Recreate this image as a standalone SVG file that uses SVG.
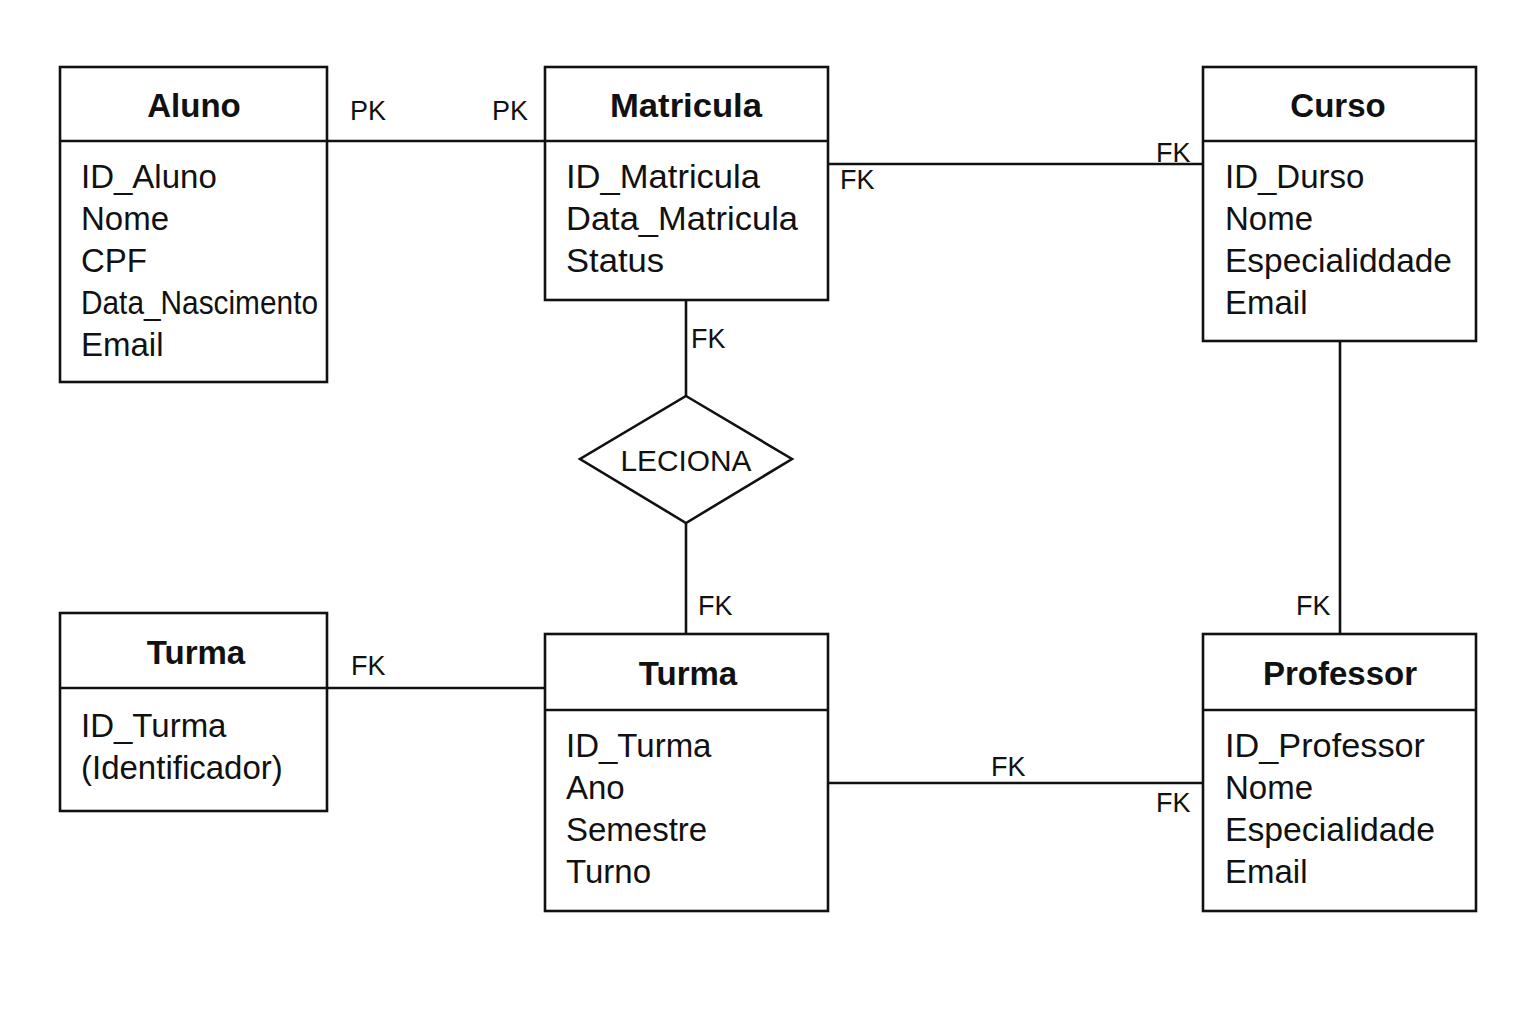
<svg xmlns="http://www.w3.org/2000/svg" width="1536" height="1024" viewBox="0 0 1536 1024">
<style>
.box{fill:#fff;stroke:#111;stroke-width:2.6}
.ln{stroke:#111;stroke-width:2.6;fill:none}
.t{font-family:"Liberation Sans",Arial,Helvetica,sans-serif;font-size:33px;font-weight:bold;fill:#111;text-anchor:middle}
.a{font-family:"Liberation Sans",Arial,Helvetica,sans-serif;font-size:33px;fill:#111}
.l{font-family:"Liberation Sans",Arial,Helvetica,sans-serif;font-size:27px;fill:#111}
</style>
<rect width="1536" height="1024" fill="#fff"/>
<g id="connectors">
<line class="ln" x1="327" y1="141" x2="545" y2="141"/>
<line class="ln" x1="828" y1="164" x2="1203" y2="164"/>
<line class="ln" x1="686" y1="300" x2="686" y2="396"/>
<line class="ln" x1="686" y1="523" x2="686" y2="634"/>
<line class="ln" x1="327" y1="688" x2="545" y2="688"/>
<line class="ln" x1="828" y1="783" x2="1203" y2="783"/>
<line class="ln" x1="1340" y1="341" x2="1340" y2="634"/>
<text class="l" x="350" y="120">PK</text>
<text class="l" x="492" y="120">PK</text>
<text class="l" x="840" y="189">FK</text>
<text class="l" x="1156" y="162">FK</text>
<text class="l" x="691" y="348">FK</text>
<text class="l" x="698" y="615">FK</text>
<text class="l" x="351" y="675">FK</text>
<text class="l" x="991" y="776">FK</text>
<text class="l" x="1156" y="812">FK</text>
<text class="l" x="1296" y="615">FK</text>
</g>
<g id="aluno">
<rect class="box" x="60" y="67" width="267" height="315"/>
<line class="ln" x1="60" y1="141" x2="327" y2="141"/>
<text class="t" x="194" y="117">Aluno</text>
<text class="a" x="81" y="188">ID_Aluno</text>
<text class="a" x="81" y="230">Nome</text>
<text class="a" x="81" y="272">CPF</text>
<text class="a" x="81" y="314" textLength="237" lengthAdjust="spacingAndGlyphs">Data_Nascimento</text>
<text class="a" x="81" y="356">Email</text>
</g>
<g id="matricula">
<rect class="box" x="545" y="67" width="283" height="233"/>
<line class="ln" x1="545" y1="141" x2="828" y2="141"/>
<text class="t" x="686" y="117" textLength="152" lengthAdjust="spacingAndGlyphs">Matricula</text>
<text class="a" x="566" y="188" textLength="194" lengthAdjust="spacingAndGlyphs">ID_Matricula</text>
<text class="a" x="566" y="230" textLength="232" lengthAdjust="spacingAndGlyphs">Data_Matricula</text>
<text class="a" x="566" y="272" textLength="98" lengthAdjust="spacingAndGlyphs">Status</text>
</g>
<g id="curso">
<rect class="box" x="1203" y="67" width="273" height="274"/>
<line class="ln" x1="1203" y1="141" x2="1476" y2="141"/>
<text class="t" x="1338" y="117">Curso</text>
<text class="a" x="1225" y="188">ID_Durso</text>
<text class="a" x="1225" y="230">Nome</text>
<text class="a" x="1225" y="272" textLength="227" lengthAdjust="spacingAndGlyphs">Especialiddade</text>
<text class="a" x="1225" y="314">Email</text>
</g>
<g id="leciona">
<polygon class="box" points="686,396 792,459 686,523 580,459"/>
<text class="a" x="686" y="471" text-anchor="middle" style="font-size:29px" textLength="131" lengthAdjust="spacingAndGlyphs">LECIONA</text>
</g>
<g id="turma-left">
<rect class="box" x="60" y="613" width="267" height="198"/>
<line class="ln" x1="60" y1="688" x2="327" y2="688"/>
<text class="t" x="196" y="664">Turma</text>
<text class="a" x="81" y="737">ID_Turma</text>
<text class="a" x="81" y="779">(Identificador)</text>
</g>
<g id="turma">
<rect class="box" x="545" y="634" width="283" height="277"/>
<line class="ln" x1="545" y1="710" x2="828" y2="710"/>
<text class="t" x="688" y="685">Turma</text>
<text class="a" x="566" y="757">ID_Turma</text>
<text class="a" x="566" y="799">Ano</text>
<text class="a" x="566" y="841">Semestre</text>
<text class="a" x="566" y="883">Turno</text>
</g>
<g id="professor">
<rect class="box" x="1203" y="634" width="273" height="277"/>
<line class="ln" x1="1203" y1="710" x2="1476" y2="710"/>
<text class="t" x="1340" y="685">Professor</text>
<text class="a" x="1225" y="757" textLength="200" lengthAdjust="spacingAndGlyphs">ID_Professor</text>
<text class="a" x="1225" y="799">Nome</text>
<text class="a" x="1225" y="841" textLength="210" lengthAdjust="spacingAndGlyphs">Especialidade</text>
<text class="a" x="1225" y="883">Email</text>
</g>
</svg>
